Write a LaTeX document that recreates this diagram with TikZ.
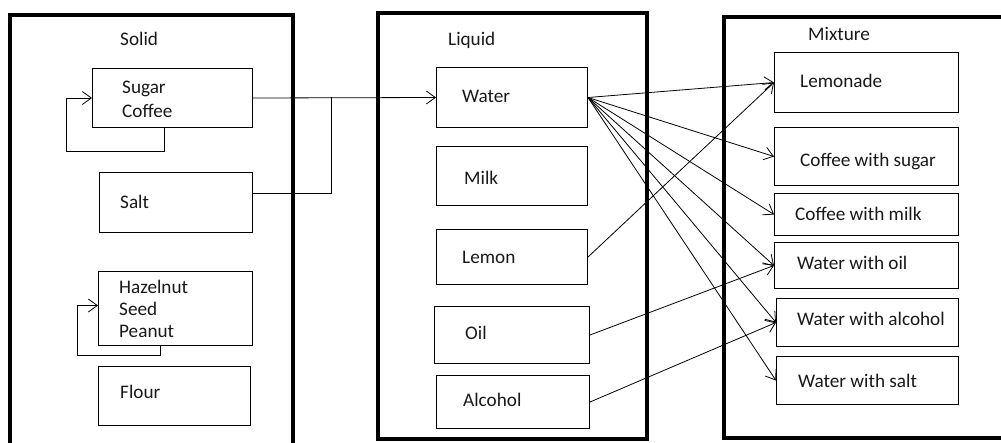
\documentclass[tikz,border=0pt]{standalone}
\usepackage{fontspec}
\setmainfont{Carlito}
\usetikzlibrary{arrows.meta}
\tikzset{
  frame/.style={draw, line width=3.6pt},
  box/.style={draw, line width=1pt, inner sep=0pt, anchor=north west, rectangle},
  txt/.style={anchor=base west, inner sep=0pt, text=black!90, font=\fontsize{19.2}{23}\selectfont},
  conn/.style={line width=0.8pt},
  arr/.style={line width=0.8pt, -{Straight Barb[length=9pt,width=13pt,line width=0.8pt]}}
}
\begin{document}
\begin{tikzpicture}[x=1pt,y=-1pt]
\useasboundingbox (0,0) rectangle (1001,442);
\clip (0,0) rectangle (1001,442);
\fill[white] (0,0) rectangle (1001,442);
% outer frames
\draw[frame] (10,15) rectangle (293,460);
\draw[frame] (378,13) rectangle (647,439);
\draw[frame] (724,17) rectangle (1020,438);
% titles
\node[txt] (tsolid) at (120,45) {Solid};
\node[txt] (tliquid) at (448,45) {Liquid};
\node[txt] (tmix) at (808,40) {Mixture};
% solid boxes
\node[box, minimum width=160pt, minimum height=59pt] (sugar) at (92,68) {};
\node[box, minimum width=153pt, minimum height=60pt] (salt) at (99,172) {};
\node[box, minimum width=154pt, minimum height=74pt] (haz) at (98,271) {};
\node[box, minimum width=152pt, minimum height=59pt] (flour) at (98,366) {};
\node[txt] (t1) at (122,93) {Sugar};
\node[txt] (t2) at (122,117) {Coffee};
\node[txt] (t3) at (120,208) {Salt};
\node[txt] (t4) at (119,293) {Hazelnut};
\node[txt] (t5) at (119,315) {Seed};
\node[txt] (t6) at (119,337) {Peanut};
\node[txt] (t7) at (120,398) {Flour};
% liquid boxes
\node[box, minimum width=151pt, minimum height=60pt] (water) at (436,67) {};
\node[box, minimum width=151pt, minimum height=59pt] (milk) at (436,146) {};
\node[box, minimum width=151pt, minimum height=55pt] (lemon) at (436,229) {};
\node[box, minimum width=155pt, minimum height=57pt] (oil) at (434,306) {};
\node[box, minimum width=153pt, minimum height=53pt] (alc) at (436,375) {};
\node[txt] (t8) at (462,102) {Water};
\node[txt] (t9) at (464,184) {Milk};
\node[txt] (t10) at (462,263) {Lemon};
\node[txt] (t11) at (465,339) {Oil};
\node[txt] (t12) at (463,406) {Alcohol};
% mixture boxes
\node[box, minimum width=184pt, minimum height=60pt] (lemonade) at (774,52) {};
\node[box, minimum width=184pt, minimum height=58pt] (csugar) at (774,127) {};
\node[box, minimum width=184pt, minimum height=42pt] (cmilk) at (774,193) {};
\node[box, minimum width=184pt, minimum height=46pt] (woil) at (774,242) {};
\node[box, minimum width=182pt, minimum height=48pt] (walc) at (776,298) {};
\node[box, minimum width=182pt, minimum height=48pt] (wsalt) at (776,356) {};
\node[txt] (t13) at (800,87) {Lemonade};
\node[txt] (t14) at (800,166) {Coffee with sugar};
\node[txt] (t15) at (795,220) {Coffee with milk};
\node[txt] (t16) at (797,269) {Water with oil};
\node[txt] (t17) at (797,325) {Water with alcohol};
\node[txt] (t18) at (798,387) {Water with salt};
% connectors
\coordinate (j) at (331,97);
\coordinate (sl) at (66,151);
\coordinate (hl) at (77,355);
\draw[arr] (sugar.east) -- (water.west);
\draw[conn] ([yshift=9pt]salt.east) -| (j);
\draw[arr] ([xshift=-8pt]sugar.south) |- (sl) |- (sugar.west);
\draw[arr] ([xshift=-15pt]haz.south) |- (hl) |- ([yshift=3pt]haz.west);
\foreach \t in {lemonade,csugar,cmilk,woil,walc,wsalt}
  \draw[arr] (water.east) -- (\t.west);
\draw[arr] (lemon.east) -- (lemonade.west);
\draw[arr] (oil.east) -- (woil.west);
\draw[arr] (alc.east) -- (walc.west);
\end{tikzpicture}
\end{document}
